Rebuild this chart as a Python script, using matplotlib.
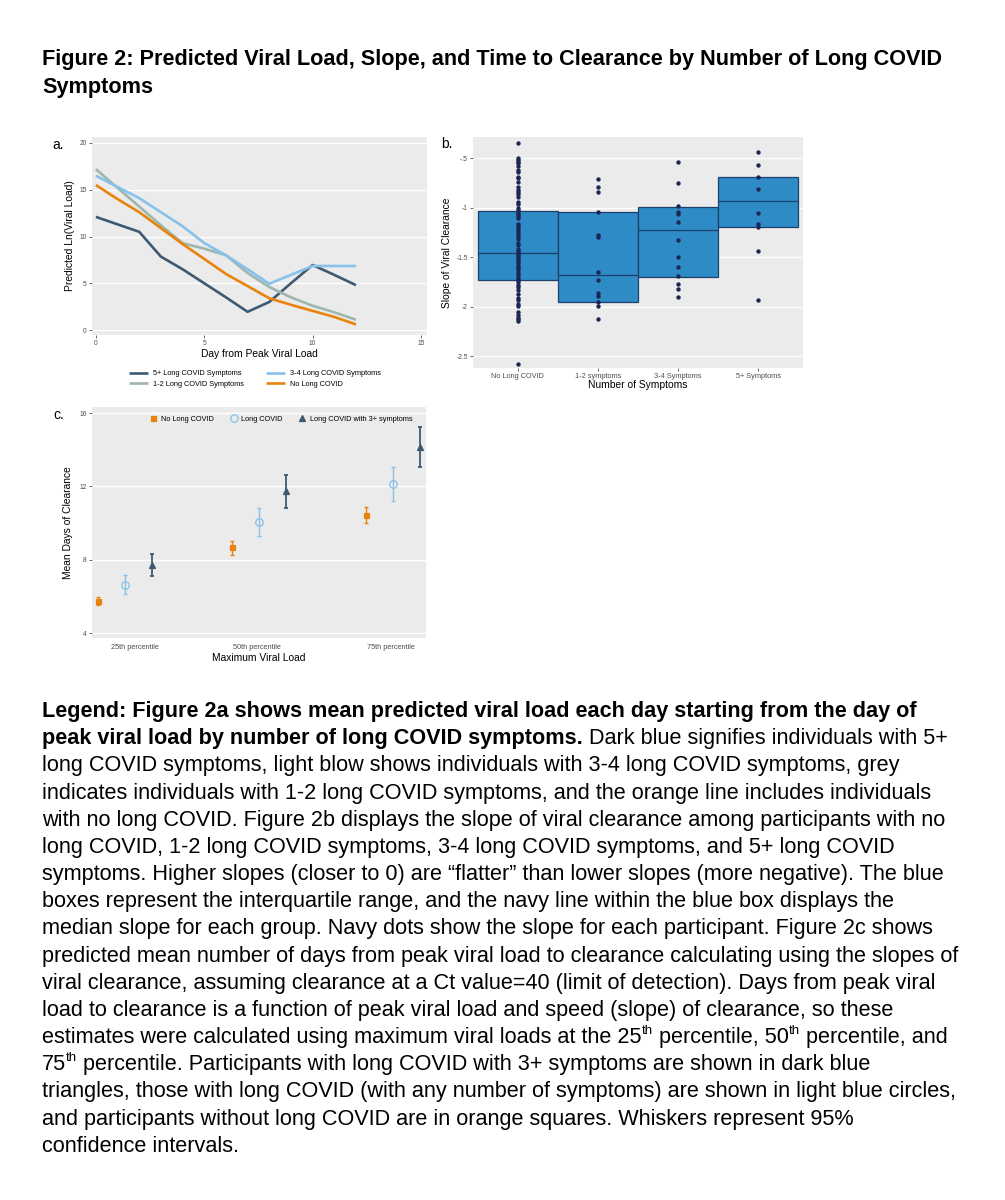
import matplotlib
matplotlib.use('Agg')
import matplotlib.pyplot as plt

plt.rcParams['font.family'] = ['Liberation Sans', 'DejaVu Sans']

W, H = 1005, 1200

# ---------------- Data ----------------
# Panel a
days = [0, 1, 2, 3, 4, 5, 6, 7, 8, 9, 10, 11, 12]
vl_5plus = [12.1, 11.3, 10.5, 7.85, 6.5, 5.0, 3.5, 1.95, 3.0, 5.0, 6.95, 5.9, 4.8]
vl_3to4 = [16.5, 15.3, 14.1, 12.6, 11.1, 9.3, 8.0, 6.5, 4.95, 5.9, 6.85, 6.85, 6.85]
vl_1to2 = [17.2, 15.2, 13.2, 11.2, 9.3, 8.7, 8.0, 6.1, 4.6, 3.5, 2.6, 1.9, 1.1]
vl_none = [15.5, 14.0, 12.6, 10.9, 9.2, 7.6, 6.0, 4.7, 3.4, 2.7, 2.05, 1.4, 0.6]
a_labels = ["5+ Long COVID Symptoms", "1-2 Long COVID Symptoms",
            "3-4 Long COVID Symptoms", "No Long COVID"]

# Panel b
b_categories = ["No Long COVID", "1-2 symptoms", "3-4 Symptoms", "5+ Symptoms"]
b_q1 = [-1.73, -1.95, -1.70, -1.20]
b_median = [-1.46, -1.68, -1.23, -0.93]
b_q3 = [-1.03, -1.04, -0.99, -0.69]
slopes_none = [-0.35, -0.50, -0.52, -0.54, -0.55, -0.58, -0.62, -0.64, -0.69, -0.70,
               -0.74, -0.79, -0.82, -0.84, -0.86, -0.89, -0.94, -0.96, -1.00, -1.02,
               -1.04, -1.06, -1.08, -1.11, -1.17, -1.19, -1.21, -1.24, -1.27, -1.29,
               -1.32, -1.36, -1.38, -1.42, -1.44, -1.46, -1.48, -1.50, -1.52, -1.54,
               -1.56, -1.59, -1.61, -1.63, -1.66, -1.68, -1.71, -1.73, -1.75, -1.78,
               -1.80, -1.83, -1.87, -1.91, -1.93, -1.97, -1.99, -2.05, -2.08, -2.11,
               -2.13, -2.15, -2.58]
slopes_1to2 = [-0.71, -0.79, -0.84, -1.04, -1.28, -1.30, -1.65, -1.73, -1.86, -1.89,
               -1.95, -1.99, -2.13]
slopes_3to4 = [-0.54, -0.75, -0.98, -1.04, -1.06, -1.15, -1.33, -1.50, -1.60, -1.69,
               -1.77, -1.82, -1.90]
slopes_5plus = [-0.44, -0.57, -0.69, -0.81, -1.05, -1.17, -1.20, -1.44, -1.93]

# Panel c
c_categories = ["25th percentile", "50th percentile", "75th percentile"]
c_groups = ["No Long COVID", "Long COVID", "Long COVID with 3+ symptoms"]
c_none_mean = [5.73, 8.67, 10.45]
c_none_lo = [5.51, 8.27, 10.00]
c_none_hi = [5.95, 9.00, 10.87]
c_lc_mean = [6.64, 10.04, 12.13]
c_lc_lo = [6.13, 9.27, 11.18]
c_lc_hi = [7.15, 10.82, 13.07]
c_lc3_mean = [7.73, 11.73, 14.15]
c_lc3_lo = [7.13, 10.80, 13.04]
c_lc3_hi = [8.33, 12.62, 15.24]

# ---------------- Style ----------------
BG = '#ebebeb'
TICKC = '#4d4d4d'
COL_5 = '#3e5a72'
COL_34 = '#86c2ea'
COL_12 = '#9db7ae'
COL_NO = '#e8830e'
BOX_FILL = '#2f8bc6'
BOX_EDGE = '#1d3f6c'
DOT = '#1a2656'


def style_axes(ax, tick_fs=4.8):
    ax.set_facecolor(BG)
    for s in ax.spines.values():
        s.set_visible(False)
    ax.grid(axis='y', color='white', linewidth=1.0)
    ax.grid(axis='x', visible=False)
    ax.set_axisbelow(True)
    ax.tick_params(axis='both', labelsize=tick_fs, colors='#333333', labelcolor=TICKC,
                   length=2.2, width=0.5, pad=1.5)


def fig_rect(x0, y0, x1, y1):
    return [x0 / W, 1 - y1 / H, (x1 - x0) / W, (y1 - y0) / H]


fig = plt.figure(figsize=(W / 100, H / 100), dpi=100)
fig.patch.set_facecolor('white')

# ---------------- Panel a ----------------
axa = fig.add_axes(fig_rect(92, 137, 427, 335))
style_axes(axa)
for vals, col, lab in [(vl_5plus, COL_5, a_labels[0]), (vl_1to2, COL_12, a_labels[1]),
                       (vl_3to4, COL_34, a_labels[2]), (vl_none, COL_NO, a_labels[3])]:
    axa.plot(days, vals, color=col, linewidth=1.9, label=lab, solid_capstyle='butt')
axa.set_xlim(-0.18, 15.28)
axa.set_ylim(-0.53, 20.64)
axa.set_xticks([0, 5, 10, 15])
axa.set_yticks([0, 5, 10, 15, 20])
axa.set_xlabel("Day from Peak Viral Load", fontsize=7.4, labelpad=1)
axa.set_ylabel("Predicted Ln(Viral Load)", fontsize=7.4, labelpad=3)
fig.legend(*axa.get_legend_handles_labels(), loc='center', ncol=2,
           bbox_to_anchor=(255 / W, 1 - 379 / H), frameon=False, fontsize=5.3,
           handlelength=2.6, handletextpad=0.7, columnspacing=2.9, labelspacing=0.45)
fig.text(52 / W, 1 - 149 / H, "a.", fontsize=10, ha='left', va='baseline')

# ---------------- Panel b ----------------
axb = fig.add_axes(fig_rect(473, 137, 803, 368))
style_axes(axb)
pos = [1, 2, 3, 4]
heights = [q3 - q1 for q1, q3 in zip(b_q1, b_q3)]
axb.bar(pos, heights, bottom=b_q1, width=1.0, color=BOX_FILL, edgecolor=BOX_EDGE,
        linewidth=0.9, zorder=2)
axb.hlines(b_median, [p - 0.5 for p in pos], [p + 0.5 for p in pos], color=BOX_EDGE,
           linewidth=0.9, zorder=3)
for p, vals in zip(pos, [slopes_none, slopes_1to2, slopes_3to4, slopes_5plus]):
    axb.scatter([p] * len(vals), vals, s=10, color=DOT, zorder=4, linewidths=0)
axb.set_xlim(0.44, 4.56)
axb.set_ylim(-2.62, -0.287)
axb.set_xticks(pos)
axb.set_xticklabels(b_categories, fontsize=5.3)
axb.set_yticks([-0.5, -1, -1.5, -2, -2.5])
axb.set_yticklabels(["-.5", "-1", "-1.5", "-2", "-2.5"])
axb.set_xlabel("Number of Symptoms", fontsize=7.4, labelpad=0)
axb.set_ylabel("Slope of Viral Clearance", fontsize=7.4, labelpad=3)
fig.text(441 / W, 1 - 148 / H, "b.", fontsize=10, ha='left', va='baseline')

# ---------------- Panel c ----------------
axc = fig.add_axes(fig_rect(92, 407, 426, 638))
style_axes(axc)
cpos = [1, 2, 3]
offs = [-0.2, 0.0, 0.2]
series = [
    (c_none_mean, c_none_lo, c_none_hi, COL_NO, 's', 3.6, COL_NO, 1.0),
    (c_lc_mean, c_lc_lo, c_lc_hi, COL_34, 'o', 5.4, 'none', 1.0),
    (c_lc3_mean, c_lc3_lo, c_lc3_hi, COL_5, '^', 4.6, COL_5, 1.3),
]
for (m, lo, hi, col, mk, ms, fc, lw), off, lab in zip(series, offs, c_groups):
    xs = [p + off for p in cpos]
    yerr = [[mm - l for mm, l in zip(m, lo)], [h - mm for mm, h in zip(m, hi)]]
    axc.errorbar(xs, m, yerr=yerr, fmt='none', ecolor=col, elinewidth=lw,
                 capsize=1.5, capthick=lw, zorder=2)
    axc.plot(xs, m, linestyle='none', marker=mk, markersize=ms, markerfacecolor=fc,
             markeredgecolor=col, markeredgewidth=0.9, label=lab, zorder=3)
axc.set_xlim(0.757, 3.243)
axc.set_ylim(3.73, 16.33)
axc.set_yticks([4, 8, 12, 16])
axc.set_xticks([1.08, 1.985, 2.985])
axc.set_xticklabels(c_categories, fontsize=5.3)
axc.tick_params(axis='x', length=0, pad=4)
axc.set_xlabel("Maximum Viral Load", fontsize=7.4, labelpad=2)
axc.set_ylabel("Mean Days of Clearance", fontsize=7.4, labelpad=5)
axc.legend(loc='center', ncol=3, bbox_to_anchor=(281 / W, 1 - 419 / H),
           bbox_transform=fig.transFigure, frameon=False, fontsize=5.3,
           handlelength=1.0, handletextpad=0.5, columnspacing=2.2)
fig.text(53 / W, 1 - 419 / H, "c.", fontsize=10, ha='left', va='baseline')

# ---------------- Title & caption text ----------------
FS = 15.57
renderer = fig.canvas.get_renderer()


def measure(txt, fs, weight):
    t = fig.text(0, 0, txt, fontsize=fs, fontweight=weight)
    w = t.get_window_extent(renderer).width
    t.remove()
    return w


space_w = {}
for wt in ('normal', 'bold'):
    space_w[wt] = measure("a a", FS, wt) - measure("aa", FS, wt)


def draw_line(segments, x0, baseline):
    x = x0
    for txt, style in segments:
        if style == 'sup':
            fs, wt, y = FS * 0.62, 'normal', baseline - FS * 1.389 * 0.42
        else:
            fs, wt, y = FS, ('bold' if style == 'b' else 'normal'), baseline
        lead = len(txt) - len(txt.lstrip(' '))
        trail = len(txt) - len(txt.rstrip(' '))
        core = txt.strip(' ')
        x += lead * space_w[wt]
        if core:
            t = fig.text(x / W, 1 - y / H, core, fontsize=fs, fontweight=wt,
                         ha='left', va='baseline', color='black')
            x += t.get_window_extent(renderer).width
        x += trail * space_w[wt]


title_lines = [
    [("Figure 2: Predicted Viral Load, Slope, and Time to Clearance by Number of Long COVID", 'b')],
    [("Symptoms", 'b')],
]
for i, segs in enumerate(title_lines):
    draw_line(segs, 42, 65 + i * 28.3)

caption_lines = [
    [("Legend: Figure 2a shows mean predicted viral load each day starting from the day of", 'b')],
    [("peak viral load by number of long COVID symptoms.", 'b'),
     (" Dark blue signifies individuals with 5+", 'r')],
    [("long COVID symptoms, light blow shows individuals with 3-4 long COVID symptoms, grey", 'r')],
    [("indicates individuals with 1-2 long COVID symptoms, and the orange line includes individuals", 'r')],
    [("with no long COVID. Figure 2b displays the slope of viral clearance among participants with no", 'r')],
    [("long COVID, 1-2 long COVID symptoms, 3-4 long COVID symptoms, and 5+ long COVID", 'r')],
    [("symptoms. Higher slopes (closer to 0) are \u201cflatter\u201d than lower slopes (more negative). The blue", 'r')],
    [("boxes represent the interquartile range, and the navy line within the blue box displays the", 'r')],
    [("median slope for each group. Navy dots show the slope for each participant. Figure 2c shows", 'r')],
    [("predicted mean number of days from peak viral load to clearance calculating using the slopes of", 'r')],
    [("viral clearance, assuming clearance at a Ct value=40 (limit of detection). Days from peak viral", 'r')],
    [("load to clearance is a function of peak viral load and speed (slope) of clearance, so these", 'r')],
    [("estimates were calculated using maximum viral loads at the 25", 'r'), ("th", 'sup'),
     (" percentile, 50", 'r'), ("th", 'sup'), (" percentile, and", 'r')],
    [("75", 'r'), ("th", 'sup'),
     (" percentile. Participants with long COVID with 3+ symptoms are shown in dark blue", 'r')],
    [("triangles, those with long COVID (with any number of symptoms) are shown in light blue circles,", 'r')],
    [("and participants without long COVID are in orange squares. Whiskers represent 95%", 'r')],
    [("confidence intervals.", 'r')],
]
for i, segs in enumerate(caption_lines):
    draw_line(segs, 42, 717 + i * 27.17)

fig.savefig('out.png', dpi=100, facecolor='white')
